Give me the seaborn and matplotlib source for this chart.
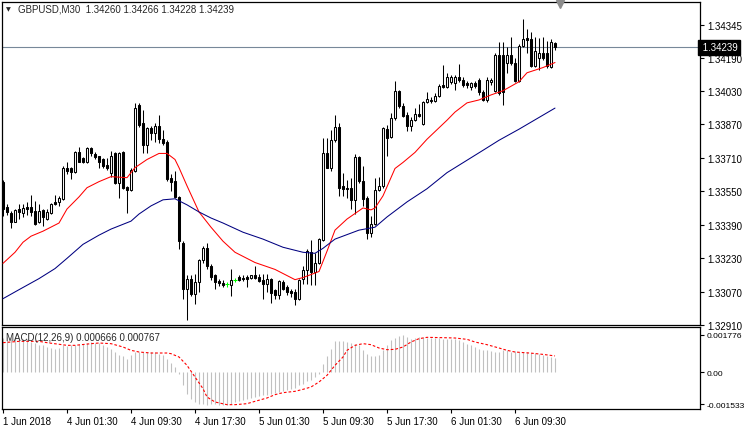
import numpy as np
import matplotlib
matplotlib.use('Agg')
import matplotlib.pyplot as plt
import matplotlib.transforms as mtrans
import seaborn as sns

sns.set_theme(style='white')
plt.rcParams['font.family'] = ['Liberation Sans', 'DejaVu Sans']

# ---------------- data (GBPUSD M30) ----------------
opens = [1.33596, 1.33475, 1.33446, 1.33403, 1.33465, 1.33446, 1.33475, 1.33475, 1.33456, 1.33403,
         1.33461, 1.33417, 1.33446, 1.33499, 1.33499, 1.33514, 1.33663, 1.33663, 1.33644, 1.33736,
         1.33707, 1.33688, 1.33755, 1.33726, 1.33717, 1.33702, 1.33678, 1.33639, 1.33731, 1.33591,
         1.33736, 1.33572, 1.33557, 1.33649, 1.33963, 1.33876, 1.33770, 1.33852, 1.33828, 1.33861,
         1.33799, 1.33784, 1.33615, 1.33601, 1.33523, 1.33301, 1.33084, 1.33132, 1.33060, 1.33118,
         1.33219, 1.33277, 1.33190, 1.33147, 1.33122, 1.33113, 1.33108, 1.33103, 1.33127, 1.33142,
         1.33137, 1.33142, 1.33137, 1.33147, 1.33142, 1.33127, 1.33108, 1.33132, 1.33079, 1.33055,
         1.33118, 1.33093, 1.33074, 1.33069, 1.33036, 1.33132, 1.33171, 1.33258, 1.33166, 1.33205,
         1.33316, 1.33731, 1.33663, 1.33794, 1.33857, 1.33576, 1.33567, 1.33567, 1.33509, 1.33712,
         1.33601, 1.33519, 1.33349, 1.33393, 1.33557, 1.33576, 1.33847, 1.33808, 1.33900, 1.34031,
         1.33958, 1.33915, 1.33861, 1.33890, 1.33919, 1.33871, 1.33977, 1.33987, 1.33982, 1.34006,
         1.34059, 1.34050, 1.34074, 1.34069, 1.34098, 1.34084, 1.34069, 1.34050, 1.34069, 1.34084,
         1.34026, 1.33987, 1.34074, 1.34031, 1.34200, 1.34204, 1.34166, 1.34204, 1.34166, 1.34079,
         1.34243, 1.34282, 1.34277, 1.34151, 1.34190, 1.34214, 1.34214, 1.34146, 1.34260]
highs = [1.33605, 1.33490, 1.33456, 1.33465, 1.33490, 1.33490, 1.33499, 1.33533, 1.33504, 1.33490,
         1.33465, 1.33465, 1.33494, 1.33533, 1.33528, 1.33673, 1.33688, 1.33668, 1.33741, 1.33760,
         1.33712, 1.33760, 1.33760, 1.33736, 1.33721, 1.33707, 1.33707, 1.33741, 1.33736, 1.33736,
         1.33741, 1.33576, 1.33659, 1.33973, 1.33973, 1.33939, 1.33857, 1.33861, 1.33876, 1.33915,
         1.33842, 1.33794, 1.33634, 1.33649, 1.33528, 1.33311, 1.33151, 1.33151, 1.33156, 1.33224,
         1.33287, 1.33301, 1.33200, 1.33156, 1.33132, 1.33127, 1.33118, 1.33176, 1.33137, 1.33151,
         1.33147, 1.33147, 1.33151, 1.33190, 1.33156, 1.33156, 1.33156, 1.33137, 1.33084, 1.33127,
         1.33127, 1.33103, 1.33084, 1.33084, 1.33132, 1.33190, 1.33272, 1.33316, 1.33253, 1.33325,
         1.33803, 1.33803, 1.33842, 1.33915, 1.33876, 1.33639, 1.33605, 1.33615, 1.33726, 1.33721,
         1.33673, 1.33528, 1.33432, 1.33615, 1.33620, 1.33857, 1.33866, 1.33924, 1.34079, 1.34035,
         1.33973, 1.33929, 1.33905, 1.33948, 1.33968, 1.33982, 1.34026, 1.34002, 1.34021, 1.34064,
         1.34156, 1.34117, 1.34108, 1.34108, 1.34161, 1.34098, 1.34079, 1.34074, 1.34079, 1.34093,
         1.34035, 1.34098, 1.34093, 1.34214, 1.34262, 1.34262, 1.34238, 1.34286, 1.34190, 1.34253,
         1.34373, 1.34325, 1.34311, 1.34286, 1.34282, 1.34286, 1.34267, 1.34277, 1.34266]
lows = [1.33432, 1.33436, 1.33374, 1.33403, 1.33417, 1.33427, 1.33436, 1.33432, 1.33388, 1.33398,
        1.33383, 1.33412, 1.33441, 1.33485, 1.33480, 1.33509, 1.33634, 1.33610, 1.33639, 1.33688,
        1.33683, 1.33683, 1.33721, 1.33702, 1.33663, 1.33663, 1.33654, 1.33620, 1.33586, 1.33519,
        1.33562, 1.33446, 1.33552, 1.33644, 1.33857, 1.33731, 1.33731, 1.33794, 1.33784, 1.33779,
        1.33770, 1.33601, 1.33552, 1.33519, 1.33272, 1.33036, 1.32934, 1.33050, 1.33011, 1.33069,
        1.33205, 1.33180, 1.33127, 1.33084, 1.33098, 1.33093, 1.33093, 1.33050, 1.33118, 1.33122,
        1.33122, 1.33093, 1.33132, 1.33132, 1.33118, 1.33036, 1.33069, 1.33016, 1.33036, 1.33036,
        1.33079, 1.33055, 1.33045, 1.33007, 1.33031, 1.33108, 1.33108, 1.33103, 1.33103, 1.33200,
        1.33311, 1.33659, 1.33649, 1.33784, 1.33528, 1.33528, 1.33519, 1.33465, 1.33441, 1.33591,
        1.33480, 1.33321, 1.33330, 1.33388, 1.33552, 1.33567, 1.33721, 1.33803, 1.33890, 1.33948,
        1.33905, 1.33837, 1.33837, 1.33886, 1.33905, 1.33866, 1.33973, 1.33973, 1.33977, 1.34002,
        1.34045, 1.34045, 1.34064, 1.34035, 1.34074, 1.34050, 1.34045, 1.34035, 1.34045, 1.34011,
        1.33982, 1.33977, 1.34059, 1.34026, 1.34011, 1.33963, 1.34117, 1.34156, 1.34074, 1.34074,
        1.34238, 1.34214, 1.34146, 1.34146, 1.34132, 1.34180, 1.34142, 1.34142, 1.34228]
closes = [1.33465, 1.33451, 1.33403, 1.33461, 1.33451, 1.33470, 1.33465, 1.33451, 1.33393, 1.33456,
          1.33427, 1.33451, 1.33490, 1.33490, 1.33519, 1.33659, 1.33649, 1.33644, 1.33736, 1.33692,
          1.33688, 1.33755, 1.33731, 1.33712, 1.33692, 1.33673, 1.33663, 1.33717, 1.33591, 1.33731,
          1.33567, 1.33557, 1.33654, 1.33948, 1.33866, 1.33770, 1.33852, 1.33828, 1.33861, 1.33799,
          1.33779, 1.33610, 1.33596, 1.33523, 1.33311, 1.33084, 1.33132, 1.33060, 1.33118, 1.33219,
          1.33277, 1.33190, 1.33142, 1.33118, 1.33113, 1.33103, 1.33108, 1.33127, 1.33127, 1.33127,
          1.33132, 1.33132, 1.33147, 1.33137, 1.33122, 1.33108, 1.33132, 1.33065, 1.33055, 1.33122,
          1.33084, 1.33069, 1.33065, 1.33036, 1.33127, 1.33171, 1.33263, 1.33166, 1.33205, 1.33321,
          1.33731, 1.33663, 1.33794, 1.33857, 1.33567, 1.33562, 1.33562, 1.33509, 1.33712, 1.33601,
          1.33514, 1.33349, 1.33393, 1.33557, 1.33576, 1.33852, 1.33803, 1.33900, 1.34031, 1.33958,
          1.33910, 1.33861, 1.33890, 1.33919, 1.33910, 1.33977, 1.33992, 1.33982, 1.34006, 1.34055,
          1.34050, 1.34098, 1.34098, 1.34098, 1.34084, 1.34059, 1.34059, 1.34069, 1.34055, 1.34026,
          1.33987, 1.34084, 1.34084, 1.34200, 1.34021, 1.34026, 1.34204, 1.34166, 1.34079, 1.34243,
          1.34277, 1.34272, 1.34151, 1.34219, 1.34214, 1.34190, 1.34151, 1.34262, 1.34239]

# moving averages (red = fast, blue = slow), sampled at bar indices
ma_fast_bars = [0, 3, 5, 7, 10, 14, 16, 19, 21, 24, 27, 31, 33, 36, 39, 41, 43, 44, 46, 49,
                52, 55, 58, 63, 68, 73, 75, 79, 81, 83, 86, 90, 92, 93, 95, 98, 100, 103, 106,
                111, 113, 116, 119, 122, 125, 129, 131, 135, 138]
ma_fast_vals = [1.33205, 1.33258, 1.33306, 1.33335, 1.33359, 1.33398, 1.33465, 1.33523, 1.33567,
                1.33596, 1.33620, 1.33615, 1.33663, 1.33702, 1.33731, 1.33731, 1.33702, 1.33663,
                1.33576, 1.33451, 1.33378, 1.33311, 1.33258, 1.33209, 1.33176, 1.33127, 1.33137,
                1.33166, 1.33263, 1.33364, 1.33417, 1.33470, 1.33461, 1.33470, 1.33528, 1.33659,
                1.33688, 1.33736, 1.33799, 1.33890, 1.33929, 1.33973, 1.33987, 1.34011, 1.34031,
                1.34074, 1.34117, 1.34142, 1.34166]
ma_slow_bars = [0, 4, 9, 13, 16, 20, 24, 27, 32, 34, 37, 40, 43, 46, 49, 52, 55, 60, 65, 70,
                75, 78, 80, 83, 89, 93, 96, 101, 106, 111, 120, 124, 129, 138]
ma_slow_vals = [1.33036, 1.33079, 1.33132, 1.33180, 1.33229, 1.33296, 1.33340, 1.33369, 1.33407,
                1.33441, 1.33480, 1.33509, 1.33514, 1.33485, 1.33451, 1.33422, 1.33398, 1.33354,
                1.33321, 1.33282, 1.33258, 1.33253, 1.33277, 1.33321, 1.33364, 1.33378, 1.33427,
                1.33499, 1.33562, 1.33639, 1.33746, 1.33794, 1.33847, 1.33948]

# MACD(12,26,9): histogram (main) and signal, in units of 1e-6
macd_main = [1622, 1670, 1670, 1622, 1590, 1558, 1558, 1431, 1399, 1304,
             1272, 1193, 1145, 1113, 1145, 1272, 1240, 1272, 1304, 1352,
             1352, 1399, 1431, 1399, 1399, 1304, 1193, 1113, 954, 827,
             763, 636, 795, 954, 954, 954, 954, 954, 954, 875,
             827, 636, 445, 239, -80, -636, -1034, -1272, -1431, -1511,
             -1511, -1558, -1511, -1511, -1558, -1558, -1558, -1511, -1431, -1399,
             -1352, -1272, -1240, -1193, -1145, -1081, -1081, -1034, -986, -954,
             -922, -875, -795, -763, -636, -557, -445, -398, -239, -80,
             398, 763, 1113, 1463, 1463, 1463, 1431, 1399, 1352, 1272,
             1034, 875, 763, 763, 827, 1034, 1272, 1511, 1622, 1717,
             1749, 1670, 1590, 1622, 1670, 1670, 1622, 1622, 1622, 1622,
             1590, 1590, 1558, 1558, 1511, 1431, 1352, 1304, 1193, 1081,
             1034, 1034, 986, 954, 954, 1034, 1034, 954, 986, 954,
             954, 954, 922, 900, 850, 790, 740, 700, 666]
signal_bars = [0, 4, 9, 11, 16, 18, 22, 24, 27, 30, 32, 34, 37, 41, 42, 44, 46, 48, 50, 51,
               53, 56, 58, 61, 63, 66, 68, 70, 73, 75, 77, 79, 81, 83, 85, 86, 88, 90, 92,
               94, 96, 98, 100, 102, 104, 106, 110, 113, 116, 118, 121, 124, 126, 128, 132,
               135, 138]
signal_vals = [1399, 1463, 1463, 1399, 1272, 1272, 1352, 1383, 1352, 1193, 1034, 954, 906, 906,
               875, 716, 318, -239, -795, -1193, -1431, -1558, -1558, -1511, -1399, -1240, -1081,
               -986, -922, -827, -716, -477, -159, 318, 716, 1034, 1272, 1352, 1304, 1145, 1065,
               1081, 1193, 1431, 1590, 1654, 1638, 1622, 1558, 1431, 1304, 1145, 1034, 954, 900,
               840, 767]

time_label_bars = [0, 16, 32, 48, 64, 80, 96, 112, 128]
time_labels = ['1 Jun 2018', '4 Jun 01:30', '4 Jun 09:30', '4 Jun 17:30', '5 Jun 01:30',
               '5 Jun 09:30', '5 Jun 17:30', '6 Jun 01:30', '6 Jun 09:30']
price_ticks = [1.34345, 1.34190, 1.34030, 1.33870, 1.33710, 1.33550, 1.33390, 1.33230,
               1.33070, 1.32910]
macd_ticks = [0.001776, 0.0, -0.001533]
macd_tick_labels = ['0.001776', '0.00', '-0.001533']
last_price = 1.34239
header = 'GBPUSD,M30  1.34260 1.34266 1.34228 1.34239'
macd_header = 'MACD(12,26,9) 0.000666 0.000767'

# ---------------- figure ----------------
W, H = 744, 427
fig = plt.figure(figsize=(W / 100, H / 100), dpi=100)
fig.patch.set_facecolor('white')


def fx(px):
    return px / W


def fy(py):
    return 1 - py / H


ax = fig.add_axes([fx(2), fy(326), fx(700) - fx(2), fy(3) - fy(326)])
ax2 = fig.add_axes([fx(2), fy(410), fx(700) - fx(2), fy(328) - fy(410)])

o = np.array(opens)
c = np.array(closes)
hi = np.maximum(np.array(highs), np.maximum(o, c))
lo = np.minimum(np.array(lows), np.minimum(o, c))
n = len(o)
x = np.arange(n)
up = c > o
dn = c < o
dj = c == o

# candles
ax.vlines(x[~dj], lo[~dj], hi[~dj], color='black', lw=0.75, zorder=2)
ax.bar(x[up], c[up] - o[up], bottom=o[up], width=0.72, facecolor='white',
       edgecolor='black', linewidth=0.75, zorder=3)
ax.bar(x[dn], o[dn] - c[dn], bottom=c[dn], width=0.72, facecolor='black',
       edgecolor='black', linewidth=0.75, zorder=3)
ax.vlines(x[dj], lo[dj], hi[dj], color='#00FF00', lw=0.75, zorder=3)
ax.hlines(o[dj], x[dj] - 0.45, x[dj] + 0.45, color='#00FF00', lw=0.75, zorder=3)

# moving averages
sns.lineplot(x=ma_fast_bars, y=ma_fast_vals, ax=ax, color='#FF0000', linewidth=0.75,
             estimator=None, sort=False, zorder=4)
sns.lineplot(x=ma_slow_bars, y=ma_slow_vals, ax=ax, color='#000080', linewidth=0.75,
             estimator=None, sort=False, zorder=4)

ax.axhline(last_price, color='#778899', lw=0.8, zorder=1)

ax.set_xlim(-0.25, 174.25)
ax.set_ylim(1.329956, 1.344557)
ax.yaxis.tick_right()
ax.set_yticks(price_ticks)
ax.set_yticklabels([f'{v:.5f}' for v in price_ticks])
ax.tick_params(axis='y', direction='out', length=3, width=0.8, pad=2, labelsize=7,
               colors='black', right=True, left=False)
ax.tick_params(axis='x', bottom=False, labelbottom=False)
ax.set_xlabel('')
ax.set_ylabel('')

trans = mtrans.blended_transform_factory(ax.transAxes, ax.transData)
ax.text(1.0, last_price, ' 1.34239', transform=trans, ha='left', va='center',
        fontsize=7, color='white', zorder=10, clip_on=False,
        bbox=dict(boxstyle='square,pad=0.25', facecolor='black', edgecolor='black'))

# MACD
ax2.vlines(x, 0, np.array(macd_main) * 1e-6, color='#C0C0C0', lw=0.8, zorder=2)
sns.lineplot(x=signal_bars, y=np.array(signal_vals) * 1e-6, ax=ax2, color='#FF0000',
             linewidth=0.8, estimator=None, sort=False, zorder=3)
ax2.lines[-1].set_linestyle((0, (2.4, 1.8)))
ax2.set_xlim(-0.25, 174.25)
ax2.set_ylim(-0.001765, 0.002147)
ax2.yaxis.tick_right()
ax2.set_yticks(macd_ticks)
ax2.set_yticklabels(macd_tick_labels)
ax2.tick_params(axis='y', direction='out', length=3, width=0.8, pad=1.5, labelsize=6.1,
                colors='black', right=True, left=False)
ax2.set_xticks(time_label_bars)
ax2.set_xticklabels(time_labels)
for lbl in ax2.get_xticklabels():
    lbl.set_horizontalalignment('left')
ax2.tick_params(axis='x', direction='out', length=3, width=0.8, pad=2, labelsize=7,
                colors='black', bottom=True)
ax2.set_xlabel('')
ax2.set_ylabel('')

for a in (ax, ax2):
    a.set_facecolor('white')
    for s in a.spines.values():
        s.set_color('black')
        s.set_linewidth(0.9)

# headers
fig.text(fx(6), fy(10), '\u25bc', fontsize=4.5, va='center', ha='left',
         family=['DejaVu Sans'])
fig.text(fx(18), fy(10), header, fontsize=7, va='center', ha='left')
fig.text(fx(6), fy(338), macd_header, fontsize=7, va='center', ha='left')

# chart shift marker
fig.lines.append(plt.Line2D([fx(560)], [fy(5)], marker='v', markersize=6,
                            color='#8c8c8c', transform=fig.transFigure))

fig.savefig('out.png', dpi=100)
